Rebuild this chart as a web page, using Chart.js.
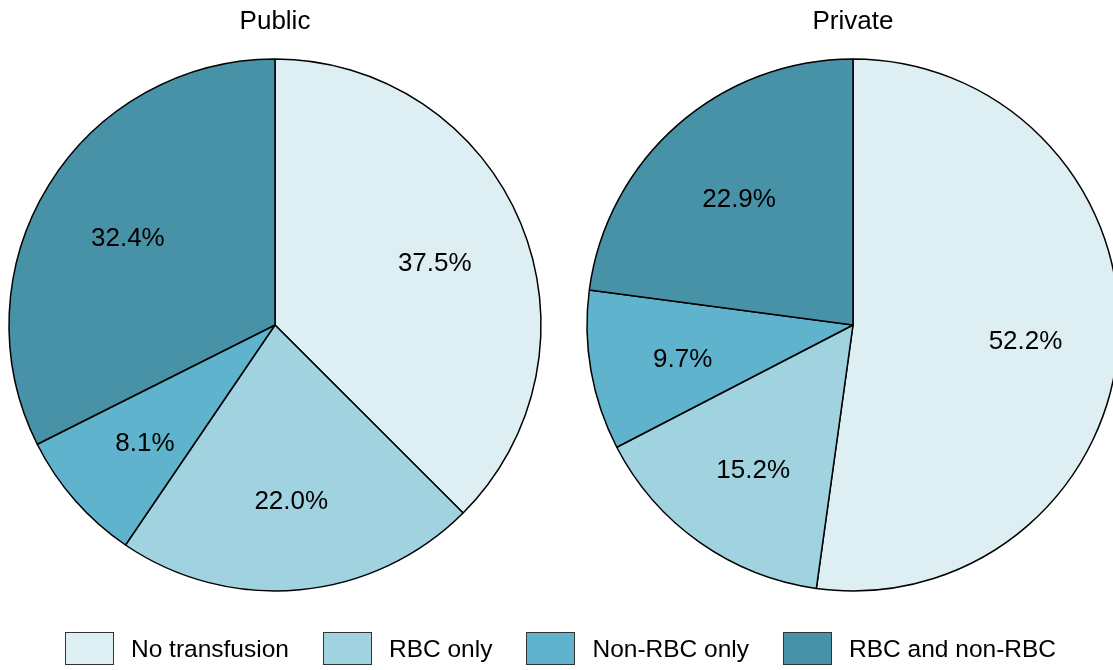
<!DOCTYPE html>
<html>
<head>
<meta charset="utf-8">
<script src="https://cdn.jsdelivr.net/npm/chart.js@4"></script>
<style>
  html, body { margin:0; padding:0; background:#fff; }
  body { width:1113px; height:670px; position:relative; overflow:hidden; font-family:"Liberation Sans", Arial, sans-serif; }
  .pane { position:absolute; top:0; width:550px; height:650px; }
  .pane canvas { position:absolute; left:0; top:0; }
  .title { position:absolute; top:5px; left:0; width:550px; text-align:center; font-size:26px; line-height:30px; color:#000; }
  #legend { position:absolute; top:632px; left:0; width:1121px; display:flex; justify-content:center; gap:34px; font-size:24.5px; line-height:32px; }
  .item { display:flex; align-items:center; }
  .box { width:47px; height:31px; border:1px solid #333; margin-right:17px; }
</style>
</head>
<body>
<div class="pane" style="left:0px"><canvas id="pub" width="550" height="650"></canvas><div class="title">Public</div></div>
<div class="pane" style="left:578px"><canvas id="priv" width="550" height="650"></canvas><div class="title">Private</div></div>
<div id="legend"></div>
<script>
// ======= DATA =======
const categories = ["No transfusion", "RBC only", "Non-RBC only", "RBC and non-RBC"];
const publicValues = [37.5, 22.0, 8.1, 32.4];
const privateValues = [52.2, 15.2, 9.7, 22.9];
const sliceColors = ["#DDEFF3", "#A0D2E0", "#5FB3CD", "#4892A8"];

// draw percent labels inside each slice
const pctLabels = {
  id: "pctLabels",
  afterDatasetsDraw(chart){
    const ctx = chart.ctx;
    const meta = chart.getDatasetMeta(0);
    const vals = chart.data.datasets[0].data;
    ctx.save();
    ctx.fillStyle = "#000";
    ctx.font = "26px 'Liberation Sans', Arial, sans-serif";
    ctx.textAlign = "center"; ctx.textBaseline = "middle";
    meta.data.forEach((arc, i) => {
      const p = arc.getProps(["x","y","startAngle","endAngle","outerRadius"], true);
      const mid = (p.startAngle + p.endAngle) / 2;
      const r = p.outerRadius * 0.65;
      ctx.fillText(vals[i].toFixed(1) + "%", p.x + Math.cos(mid) * r, p.y + Math.sin(mid) * r + 5);
    });
    ctx.restore();
  }
};

function makePie(id, values){
  new Chart(document.getElementById(id), {
    type: "pie",
    data: { labels: categories, datasets: [{ data: values, backgroundColor: sliceColors, borderColor: "#000", borderWidth: 1.5 }] },
    options: {
      responsive: false, animation: false, radius: 266,
      layout: { padding: 0 },
      plugins: { legend: { display: false }, tooltip: { enabled: false }, title: { display: false } }
    },
    plugins: [pctLabels]
  });
}
makePie("pub", publicValues);
makePie("priv", privateValues);

// legend
const lg = document.getElementById("legend");
categories.forEach((c, i) => {
  lg.innerHTML += `<div class="item"><div class="box" style="background:${sliceColors[i]}"></div><span>${c}</span></div>`;
});
</script>
</body>
</html>
